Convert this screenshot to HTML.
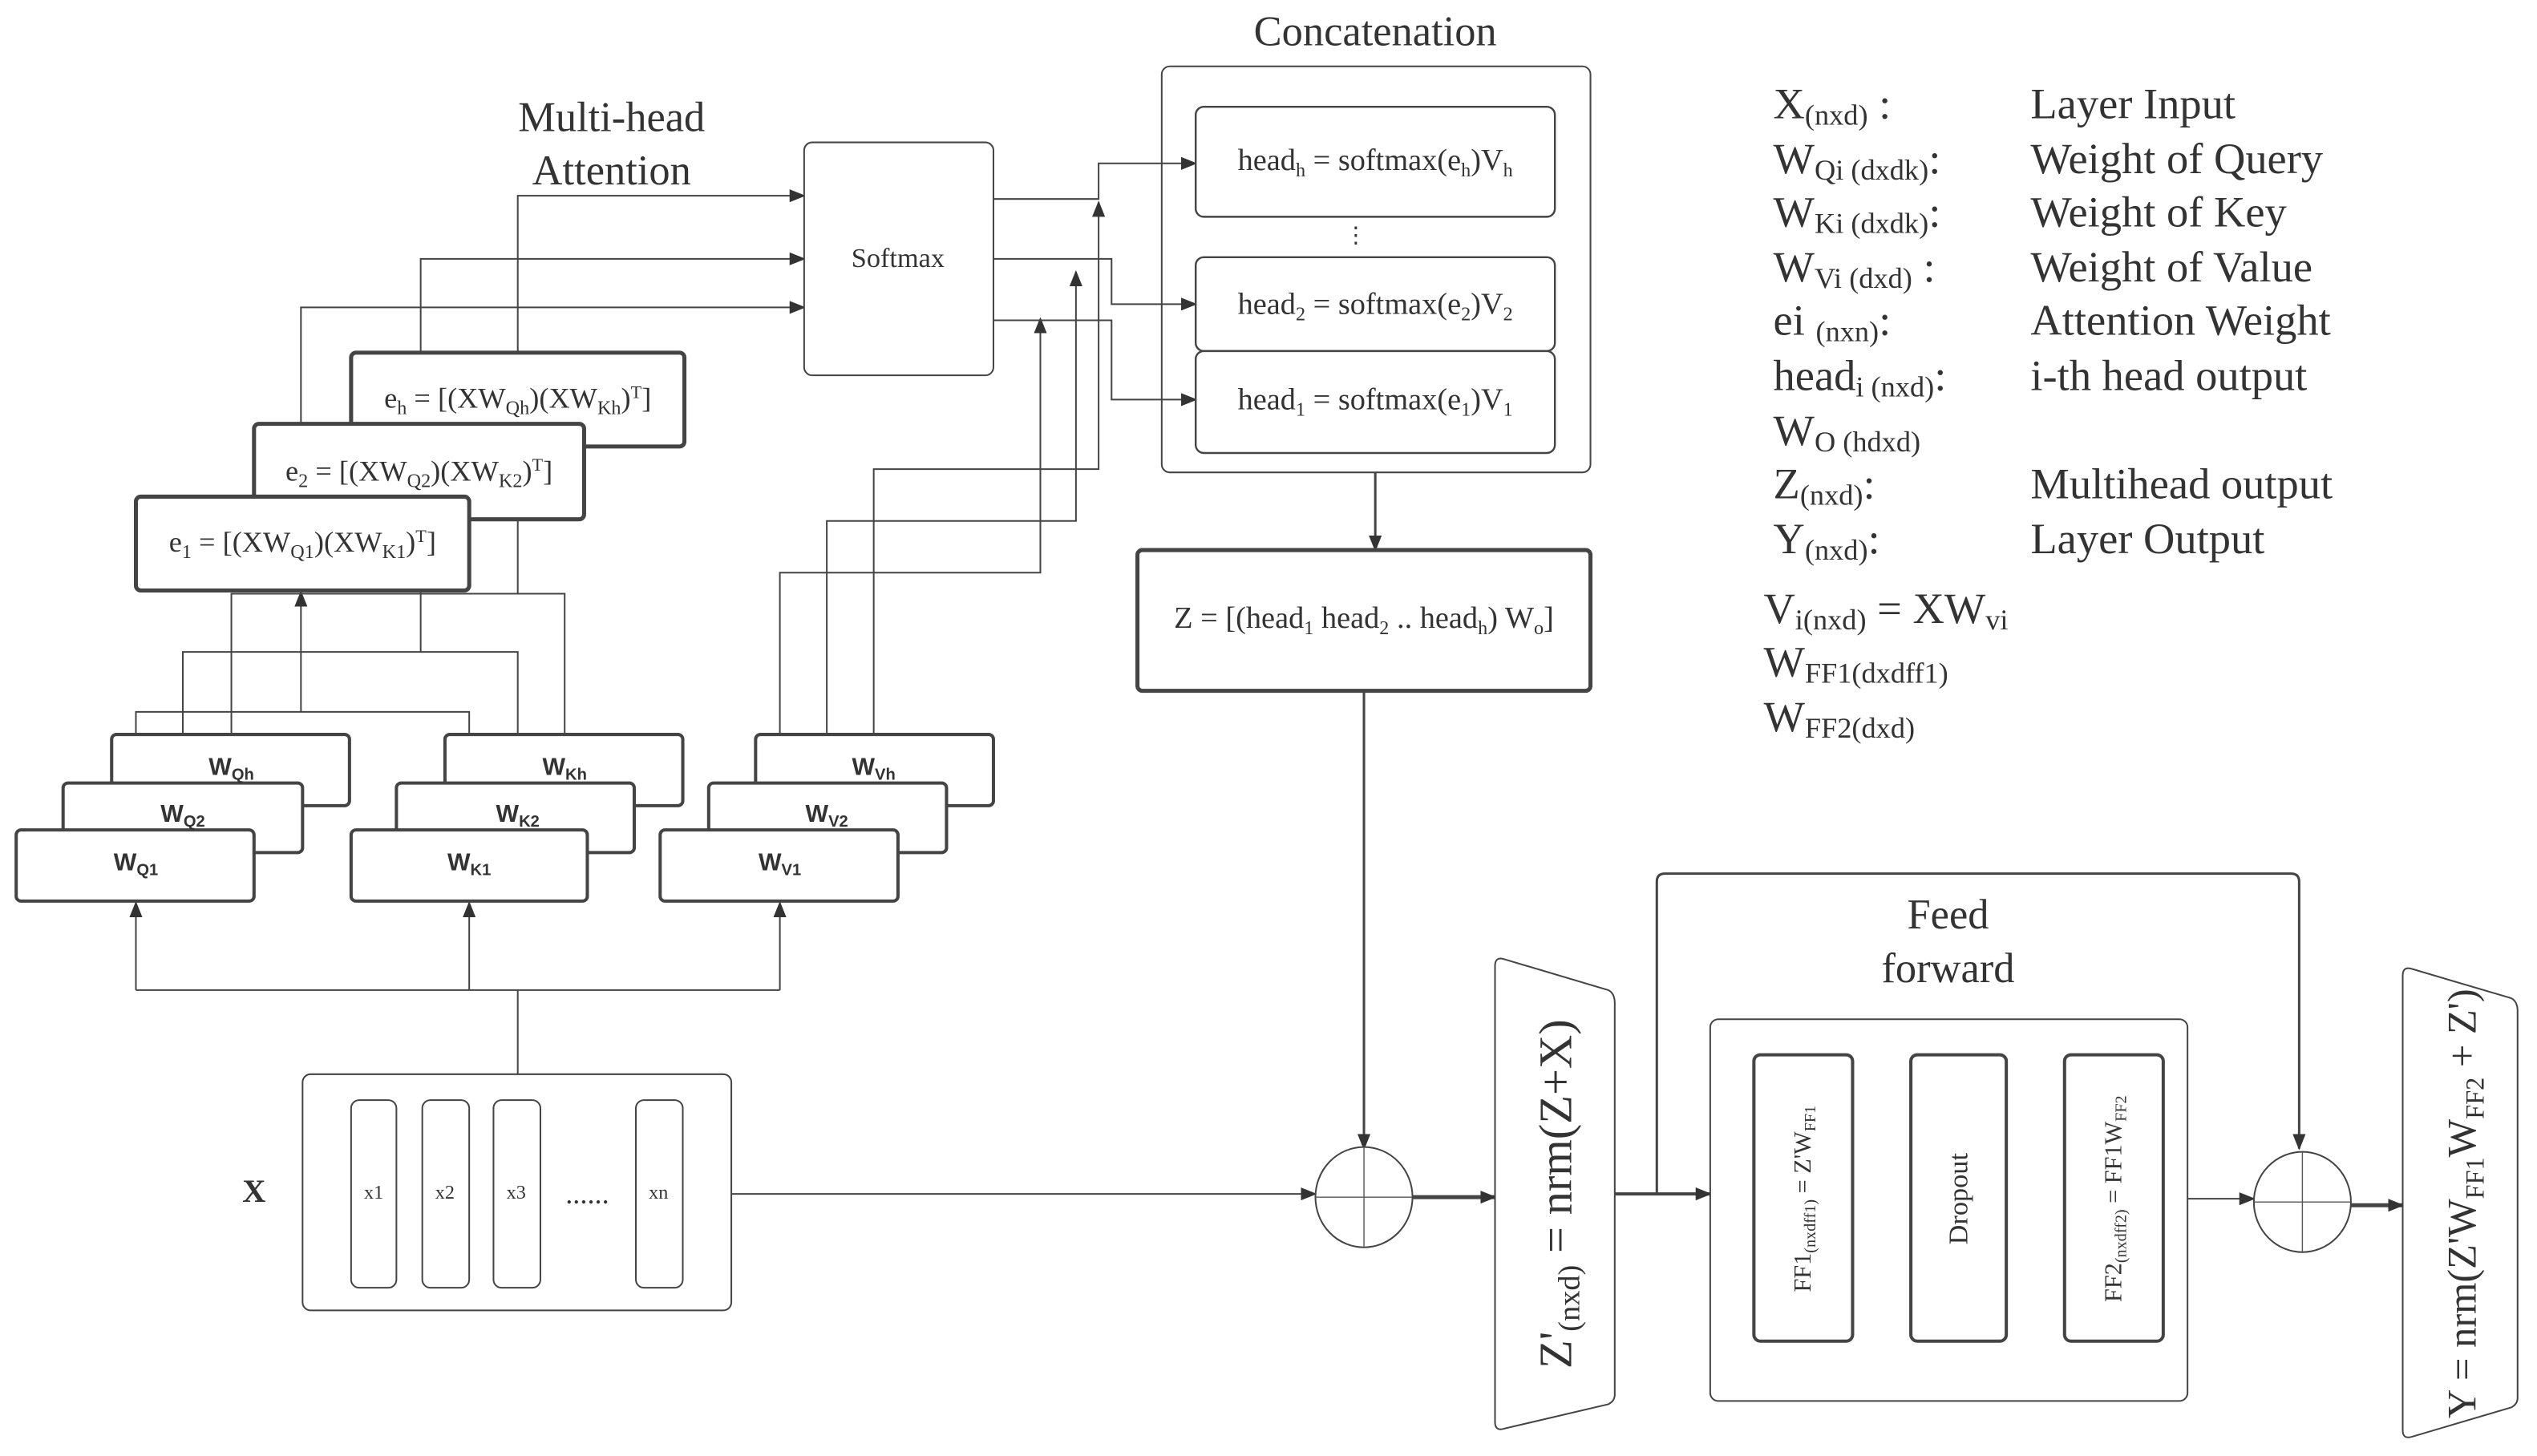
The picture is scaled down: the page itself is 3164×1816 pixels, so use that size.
<!DOCTYPE html>
<html><head><meta charset="utf-8"><style>
html,body{margin:0;padding:0;background:#fff;}
svg{display:block}
text{fill:#333;font-family:"Liberation Serif",serif}
.s{font-family:"Liberation Sans",sans-serif;font-weight:bold}
</style></head><body>
<svg width="3164" height="1816" viewBox="0 0 1568 900" preserveAspectRatio="none" xmlns="http://www.w3.org/2000/svg">
<defs>
<marker id="a" markerWidth="10" markerHeight="8" refX="9" refY="4" orient="auto" markerUnits="userSpaceOnUse"><path d="M0,0 L10,4 L0,8 z" fill="#333"/></marker>
</defs>
<rect x="718" y="41" width="265" height="251" rx="5" fill="#fff" stroke="#444" stroke-width="1"/>
<g fill="none" stroke="#444" stroke-width="1">
<path d="M320,664 V612 M84,612 H482 M84,612 V558" marker-end="url(#a)"/>
<path d="M290,612 V558" marker-end="url(#a)"/>
<path d="M482,612 V558" marker-end="url(#a)"/>
<path d="M452,738 H813" marker-end="url(#a)"/>
<path d="M84,513 V440 H290 V513"/>
<path d="M186,440 V366" marker-end="url(#a)"/>
<path d="M113,484 V403 H320 V484"/>
<path d="M260,403 V321"/>
<path d="M143,454 V367 H349 V454"/>
<path d="M320,367 V276"/>
<path d="M186,307 V190 H497" marker-end="url(#a)"/>
<path d="M260,262 V160 H497" marker-end="url(#a)"/>
<path d="M320,218 V121 H497" marker-end="url(#a)"/>
<path d="M540,454 V290 H679 V125" marker-end="url(#a)"/>
<path d="M511,484 V322 H665 V168" marker-end="url(#a)"/>
<path d="M482,513 V354 H643 V197" marker-end="url(#a)"/>
<path d="M614,123 H679 V101 H739" marker-end="url(#a)"/>
<path d="M614,160 H687 V188 H739" marker-end="url(#a)"/>
<path d="M614,198 H687 V247 H739" marker-end="url(#a)"/>
<path d="M850,292 V340" stroke-width="1.5" marker-end="url(#a)"/>
<path d="M843,427 V710" stroke-width="1.5" marker-end="url(#a)"/>
<path d="M873,740 H924" stroke-width="2.5" marker-end="url(#a)"/>
<path d="M998,738 H1057" stroke-width="2" marker-end="url(#a)"/>
<path d="M1024,738 V545 Q1024,540 1029,540 H1416 Q1421,540 1421,545 V710" stroke-width="1.5" marker-end="url(#a)"/>
<path d="M1145,741 H1181" marker-end="url(#a)"/>
<path d="M1240,741 H1276" marker-end="url(#a)"/>
<path d="M1352,741 H1393" marker-end="url(#a)"/>
<path d="M1453,745 H1485" stroke-width="2.5" marker-end="url(#a)"/>
</g>
<g fill="#fff" stroke="#444">
<rect x="69" y="454" width="147" height="44" rx="3" stroke-width="2"/>
<rect x="39" y="484" width="148" height="43" rx="3" stroke-width="2"/>
<rect x="10" y="513" width="147" height="44" rx="3" stroke-width="2"/>
<rect x="275" y="454" width="147" height="44" rx="3" stroke-width="2"/>
<rect x="245" y="484" width="147" height="43" rx="3" stroke-width="2"/>
<rect x="217" y="513" width="146" height="44" rx="3" stroke-width="2"/>
<rect x="467" y="454" width="147" height="44" rx="3" stroke-width="2"/>
<rect x="438" y="484" width="147" height="43" rx="3" stroke-width="2"/>
<rect x="408" y="513" width="147" height="44" rx="3" stroke-width="2"/>
<rect x="217" y="218" width="206" height="58" rx="3" stroke-width="2.5"/>
<rect x="157" y="262" width="204" height="59" rx="3" stroke-width="2.5"/>
<rect x="84" y="307" width="206" height="58" rx="3" stroke-width="2.5"/>
<rect x="497" y="88" width="117" height="144" rx="5" stroke-width="1"/>
<rect x="739" y="66" width="222" height="68" rx="5" stroke-width="1.2"/>
<rect x="739" y="159" width="222" height="58" rx="5" stroke-width="1.2"/>
<rect x="739" y="217" width="222" height="63" rx="5" stroke-width="1.2"/>
<rect x="703" y="340" width="280" height="87" rx="3" stroke-width="2.5"/>
<rect x="187" y="664" width="265" height="146" rx="5" stroke-width="1"/>
<rect x="217" y="680" width="28" height="116" rx="5" stroke-width="1"/>
<rect x="261" y="680" width="29" height="116" rx="5" stroke-width="1"/>
<rect x="305" y="680" width="29" height="116" rx="5" stroke-width="1"/>
<rect x="393" y="680" width="29" height="116" rx="5" stroke-width="1"/>
<ellipse cx="843" cy="740" rx="30" ry="31" stroke-width="1"/>
<ellipse cx="1423" cy="743" rx="30" ry="31" stroke-width="1"/>
<path d="M924,597 Q924,591 930,593 L994,612 Q998,614 998,620 V862 Q998,866 994,868 L930,883 Q924,885 924,879 Z" stroke-width="1"/>
<path d="M1485,603 Q1485,597 1491,599 L1552,617 Q1556,619 1556,625 V864 Q1556,868 1552,870 L1491,888 Q1485,890 1485,884 Z" stroke-width="1"/>
<rect x="1057" y="630" width="295" height="236" rx="5" stroke-width="1"/>
<rect x="1084" y="652" width="61" height="177" rx="4" stroke-width="2"/>
<rect x="1181" y="652" width="59" height="177" rx="4" stroke-width="2"/>
<rect x="1276" y="652" width="61" height="177" rx="4" stroke-width="2"/>
</g>
<g stroke="#555" stroke-width="0.7">
<path d="M813,740 H873 M843,709 V771"/>
<path d="M1393,743 H1453 M1423,712 V774"/>
</g>
<text x="850" y="28" font-size="26" text-anchor="middle">Concatenation</text>
<text x="378" y="81" font-size="26" text-anchor="middle">Multi-head</text>
<text x="378" y="114" font-size="26" text-anchor="middle">Attention</text>
<text x="555" y="165" font-size="17" text-anchor="middle">Softmax</text>
<text x="850" y="105" font-size="19" text-anchor="middle">head<tspan font-size="12" dy="4">h</tspan><tspan dy="-4"> = softmax(e</tspan><tspan font-size="12" dy="4">h</tspan><tspan dy="-4">)V</tspan><tspan font-size="12" dy="4">h</tspan></text>
<text x="838" y="150" font-size="14" text-anchor="middle">⋮</text>
<text x="850" y="194" font-size="19" text-anchor="middle">head<tspan font-size="12" dy="4">2</tspan><tspan dy="-4"> = softmax(e</tspan><tspan font-size="12" dy="4">2</tspan><tspan dy="-4">)V</tspan><tspan font-size="12" dy="4">2</tspan></text>
<text x="850" y="253" font-size="19" text-anchor="middle">head<tspan font-size="12" dy="4">1</tspan><tspan dy="-4"> = softmax(e</tspan><tspan font-size="12" dy="4">1</tspan><tspan dy="-4">)V</tspan><tspan font-size="12" dy="4">1</tspan></text>
<text x="843" y="388" font-size="19" text-anchor="middle">Z = [(head<tspan font-size="12" dy="4">1</tspan><tspan dy="-4"> head</tspan><tspan font-size="12" dy="4">2</tspan><tspan dy="-4"> .. head</tspan><tspan font-size="12" dy="4">h</tspan><tspan dy="-4">) W</tspan><tspan font-size="12" dy="4">o</tspan><tspan dy="-4">]</tspan></text>
<text x="320" y="252" font-size="18" text-anchor="middle">e<tspan font-size="12" dy="4">h</tspan><tspan dy="-4"> = [(XW</tspan><tspan font-size="12" dy="4">Qh</tspan><tspan dy="-4">)(XW</tspan><tspan font-size="12" dy="4">Kh</tspan><tspan dy="-4">)</tspan><tspan font-size="11" dy="-6">T</tspan><tspan dy="6">]</tspan></text>
<text x="259" y="297" font-size="18" text-anchor="middle">e<tspan font-size="12" dy="4">2</tspan><tspan dy="-4"> = [(XW</tspan><tspan font-size="12" dy="4">Q2</tspan><tspan dy="-4">)(XW</tspan><tspan font-size="12" dy="4">K2</tspan><tspan dy="-4">)</tspan><tspan font-size="11" dy="-6">T</tspan><tspan dy="6">]</tspan></text>
<text x="187" y="341" font-size="18" text-anchor="middle">e<tspan font-size="12" dy="4">1</tspan><tspan dy="-4"> = [(XW</tspan><tspan font-size="12" dy="4">Q1</tspan><tspan dy="-4">)(XW</tspan><tspan font-size="12" dy="4">K1</tspan><tspan dy="-4">)</tspan><tspan font-size="11" dy="-6">T</tspan><tspan dy="6">]</tspan></text>
<g class="s" font-size="15" text-anchor="middle">
<text class="s" x="143" y="479">W<tspan font-size="10" dy="3">Qh</tspan></text>
<text class="s" x="113" y="508">W<tspan font-size="10" dy="3">Q2</tspan></text>
<text class="s" x="84" y="538">W<tspan font-size="10" dy="3">Q1</tspan></text>
<text class="s" x="349" y="479">W<tspan font-size="10" dy="3">Kh</tspan></text>
<text class="s" x="320" y="508">W<tspan font-size="10" dy="3">K2</tspan></text>
<text class="s" x="290" y="538">W<tspan font-size="10" dy="3">K1</tspan></text>
<text class="s" x="540" y="479">W<tspan font-size="10" dy="3">Vh</tspan></text>
<text class="s" x="511" y="508">W<tspan font-size="10" dy="3">V2</tspan></text>
<text class="s" x="482" y="538">W<tspan font-size="10" dy="3">V1</tspan></text>
</g>
<text x="157" y="743" font-size="20" font-weight="bold" text-anchor="middle">X</text>
<g font-size="12" text-anchor="middle">
<text x="231" y="741">x1</text><text x="275" y="741">x2</text><text x="319" y="741">x3</text><text x="407" y="741">xn</text>
</g>
<text x="363" y="744" font-size="18" text-anchor="middle">......</text>
<text x="1204" y="574" font-size="26" text-anchor="middle">Feed</text>
<text x="1204" y="607" font-size="26" text-anchor="middle">forward</text>
<text transform="translate(971,738) rotate(-90)" font-size="29" text-anchor="middle">Z'<tspan font-size="19" dy="5">(nxd)</tspan><tspan dy="-5"> = nrm(Z+X)</tspan></text>
<text transform="translate(1530,744) rotate(-90)" font-size="25" text-anchor="middle">Y = nrm(Z'W<tspan font-size="16" dy="5">FF1</tspan><tspan dy="-5">W</tspan><tspan font-size="16" dy="5">FF2</tspan><tspan dy="-5"> + Z')</tspan></text>
<text transform="translate(1119,741) rotate(-90)" font-size="15" text-anchor="middle">FF1<tspan font-size="10" dy="3">(nxdff1)</tspan><tspan dy="-3"> = Z'W</tspan><tspan font-size="10" dy="3">FF1</tspan></text>
<text transform="translate(1216,741) rotate(-90)" font-size="17" text-anchor="middle">Dropout</text>
<text transform="translate(1311,741) rotate(-90)" font-size="15" text-anchor="middle">FF2<tspan font-size="10" dy="3">(nxdff2)</tspan><tspan dy="-3"> = FF1W</tspan><tspan font-size="10" dy="3">FF2</tspan></text>
<g font-size="27">
<text x="1096" y="73">X<tspan font-size="18" dy="4">(nxd)</tspan><tspan dy="-4"> :</tspan></text>
<text x="1096" y="107">W<tspan font-size="18" dy="4">Qi (dxdk)</tspan><tspan dy="-4">:</tspan></text>
<text x="1096" y="140">W<tspan font-size="18" dy="4">Ki (dxdk)</tspan><tspan dy="-4">:</tspan></text>
<text x="1096" y="174">W<tspan font-size="18" dy="4">Vi (dxd)</tspan><tspan dy="-4"> :</tspan></text>
<text x="1096" y="207">ei <tspan font-size="18" dy="4">(nxn)</tspan><tspan dy="-4">:</tspan></text>
<text x="1096" y="241">head<tspan font-size="18" dy="4">i (nxd)</tspan><tspan dy="-4">:</tspan></text>
<text x="1096" y="275">W<tspan font-size="18" dy="4">O (hdxd)</tspan></text>
<text x="1096" y="308">Z<tspan font-size="18" dy="4">(nxd)</tspan><tspan dy="-4">:</tspan></text>
<text x="1096" y="342">Y<tspan font-size="18" dy="4">(nxd)</tspan><tspan dy="-4">:</tspan></text>
<text x="1090" y="385">V<tspan font-size="18" dy="4">i(nxd)</tspan><tspan dy="-4"> = XW</tspan><tspan font-size="18" dy="4">vi</tspan></text>
<text x="1090" y="418">W<tspan font-size="18" dy="4">FF1(dxdff1)</tspan></text>
<text x="1090" y="452">W<tspan font-size="18" dy="4">FF2(dxd)</tspan></text>
<text x="1255" y="73">Layer Input</text>
<text x="1255" y="107">Weight of Query</text>
<text x="1255" y="140">Weight of Key</text>
<text x="1255" y="174">Weight of Value</text>
<text x="1255" y="207">Attention Weight</text>
<text x="1255" y="241">i-th head output</text>
<text x="1255" y="308">Multihead output</text>
<text x="1255" y="342">Layer Output</text>
</g>
</svg>
</body></html>
